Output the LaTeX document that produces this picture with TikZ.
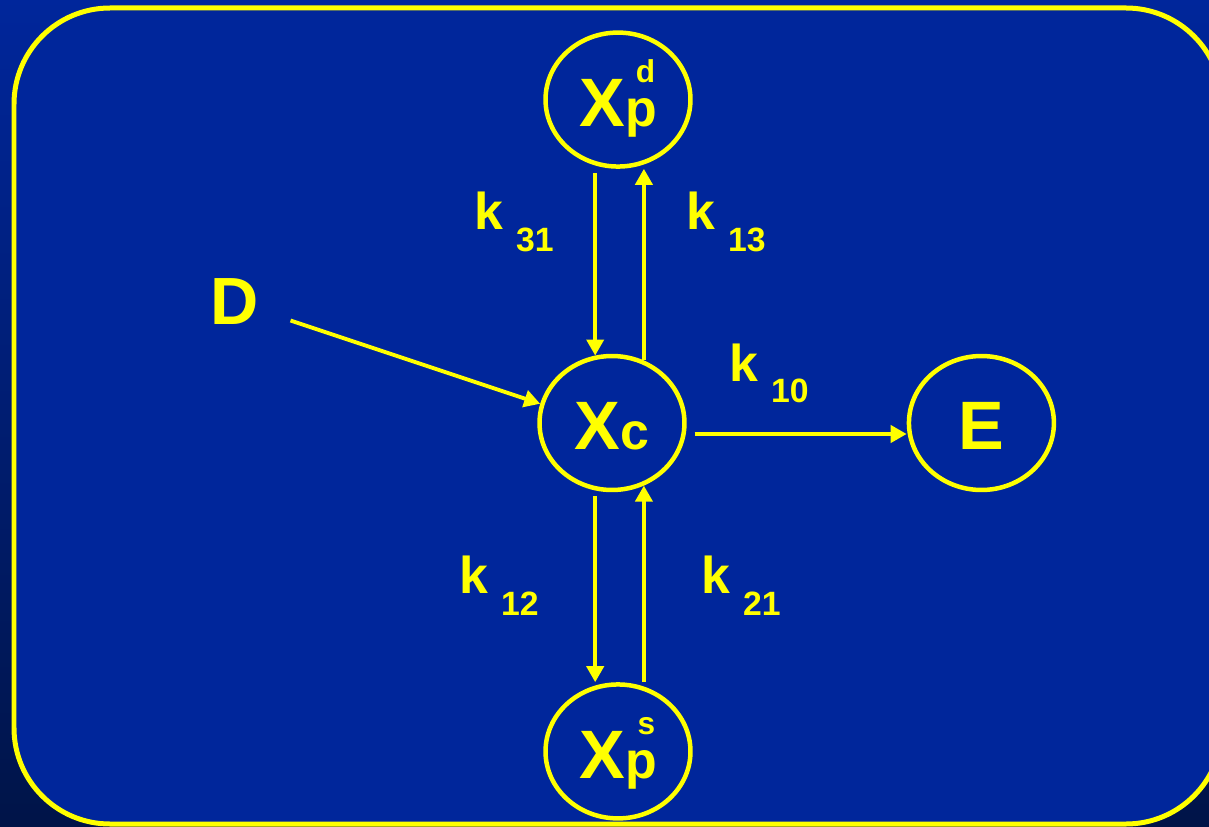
\documentclass[tikz,border=0pt]{standalone}
\usepackage{fontspec}
\setmainfont{Liberation Sans}
\usepackage{tikz}
\usetikzlibrary{shapes.geometric, arrows.meta, positioning}
\definecolor{slideblue}{RGB}{0,38,155}
\definecolor{slidenavy}{RGB}{0,20,72}
\definecolor{slideyellow}{RGB}{255,255,0}
\newcommand{\lowglyph}[1]{{\fontsize{29.5}{30}\selectfont #1}}
\newcommand{\topglyph}[1]{\llap{\raisebox{0.88cm}{\fontsize{18}{19}\selectfont #1}\kern0.03cm}}
\newcommand{\krate}[1]{{\fontsize{29.5}{30}\selectfont k}\hspace{0.26cm}\raisebox{-0.44cm}{\fontsize{19.2}{20}\selectfont #1}}
\tikzstyle{compartment} = [ellipse, minimum width=2.9cm, minimum height=2.68cm, inner sep=0pt, draw=slideyellow, line width=0.09cm, text=slideyellow, font=\fontsize{39}{40}\selectfont\bfseries, text height=1.08cm, text depth=0pt]
\tikzstyle{rate} = [anchor=base west, inner sep=0pt, text=slideyellow, font=\bfseries]
\tikzstyle{arrow} = [line width=0.078cm, draw=slideyellow, -{Triangle[length=0.32cm, width=0.34cm]}]

\begin{document}
\begin{tikzpicture}[x=0.02cm, y=-0.02cm]
  \useasboundingbox (0,0) rectangle (1209,827);
  \shade[top color=slideblue, bottom color=slidenavy] (0,0) rectangle (1209,827);
  \draw[slideyellow, line width=0.1cm, fill=slideblue, rounded corners=1.92cm] (14,8) rectangle (1222,824);

  \node (xc) [compartment] at (612,423) {X\lowglyph{c}};
  \node (e) [compartment, right=4.4cm of xc] {E};
  \node (xpd) [compartment, above=3.7cm of xc, xshift=0.12cm] {X\lowglyph{p}\topglyph{d}};
  \node (xps) [compartment, below=3.8cm of xc, xshift=0.12cm] {X\lowglyph{p}\topglyph{s}};
  \node (d) [text=slideyellow, inner sep=0.1cm, font=\fontsize{38}{40}\selectfont\bfseries] at (235,302) {D};

  \node (k31) [rate] at (474,230) {\krate{31}};
  \node (k13) [rate] at (686,230) {\krate{13}};
  \node (k10) [rate] at (729,381) {\krate{10}};
  \node (k12) [rate] at (459,593) {\krate{12}};
  \node (k21) [rate] at (701,593) {\krate{21}};

  \draw[arrow, shorten <=0.55cm] (d) -- (xc.165);
  \draw[arrow, shorten <=0.08cm] (xpd.south -| xc.104) -- (xc.104);
  \draw[arrow] (xc.63) -- (xpd.south -| xc.63);
  \draw[arrow, shorten <=0.16cm] ([yshift=-0.22cm]xc.east) -- ([yshift=-0.22cm]e.west);
  \draw[arrow, shorten <=0.12cm] (xc.256) -- (xps.north -| xc.256);
  \draw[arrow] (xps.north -| xc.297) -- (xc.297);
\end{tikzpicture}
\end{document}
